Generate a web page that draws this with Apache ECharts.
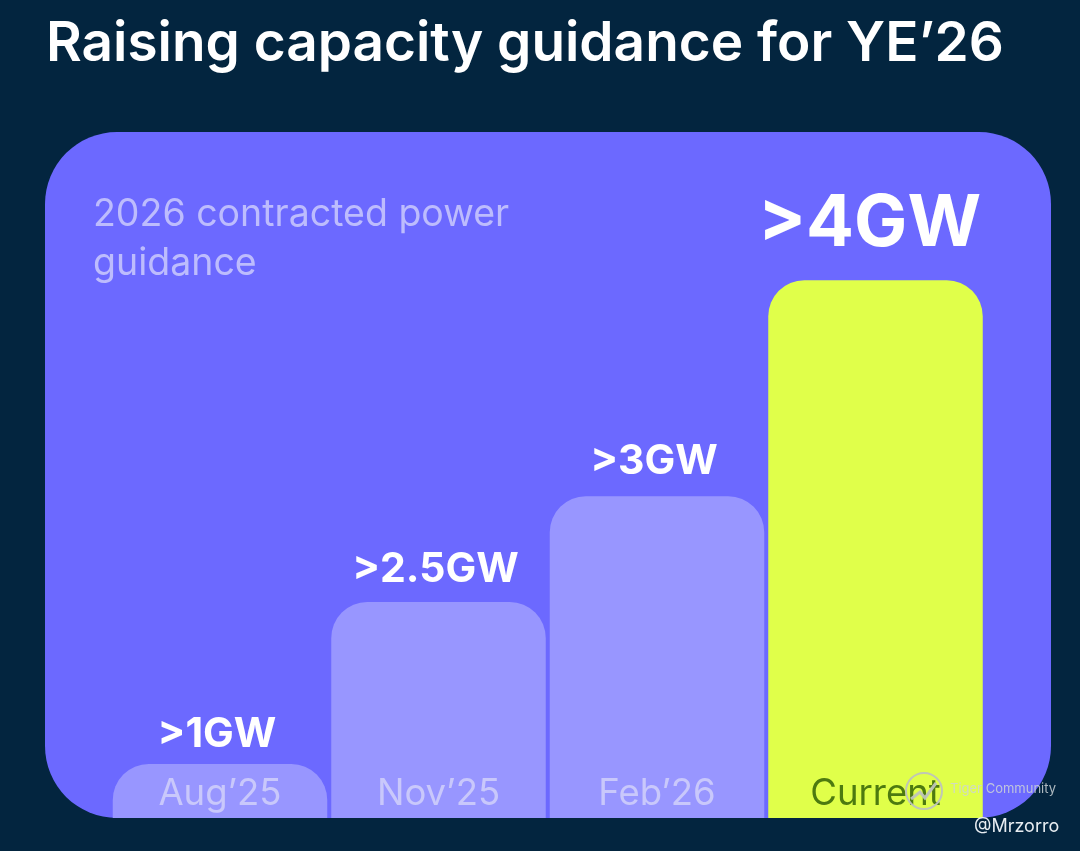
<!DOCTYPE html>
<html><head><meta charset="utf-8">
<style>html,body{margin:0;padding:0;background:#03253f}#c{width:1080px;height:851px}</style>
<script src="https://cdn.jsdelivr.net/npm/echarts@6/dist/echarts.min.js"></script>
</head><body><div id="c"></div>
<script>
const categories = ["Aug\u201925", "Nov\u201925", "Feb\u201926", "Current"];
// Drawn bar heights (the bars are not to scale with their labels)
const barHeights = [0.25, 1, 1.49, 2.49];
const barLabels = [">1GW", ">2.5GW", ">3GW", ">4GW"];
const titleText = "Raising capacity guidance for YE\u201926";
const subtitleText = "2026 contracted power\nguidance";

const F = "Inter, 'Noto Sans', sans-serif";
const LAST = categories.length - 1;
const labelGap = i => i === LAST ? 20 : (i === 0 ? 9 : (i === 1 ? 12 : 14));
const chart = echarts.init(document.getElementById('c'), null, {renderer:'canvas'});
chart.setOption({
  backgroundColor:'#03253f',
  animation:false,
  grid:{left:110.75,right:95.25,top:132,bottom:33},
  xAxis:{type:'category',data:categories,z:10,
    axisLine:{show:false},axisTick:{show:false},
    axisLabel:{margin:-24,fontFamily:F,fontSize:36.5,verticalAlign:'middle',
      color:(v,i)=>i===LAST?'#4d7a10':'#c9c8fb'}},
  yAxis:{type:'value',min:0,max:3.176,show:false,splitLine:{show:false}},
  series:[{type:'bar',barWidth:214.5,z:3,
    data:barHeights.map((v,i)=>({value:v,
      itemStyle:{color:i===LAST?'#e0ff4a':'#9896ff',borderRadius:[36,36,0,0]},
      label:{show:true,position:'top',distance:labelGap(i),offset:[i===LAST?-6:-3,0],formatter:barLabels[i],
        fontFamily:F,fontWeight:700,fontSize:i===LAST?71:41,color:'#ffffff'}}))
  }],
  graphic:[
    {type:'rect',z:0,silent:true,shape:{x:45,y:132,width:1006,height:686,r:72},style:{fill:'#6c69ff'}},
    {type:'text',z:10,left:46,top:17,style:{text:titleText,fontFamily:F,fontWeight:600,fontSize:54.9,fill:'#ffffff'}},
    {type:'text',z:10,left:93,top:190,style:{text:subtitleText,fontFamily:F,fontSize:37.5,lineHeight:49,fill:'#bdbcfd'}},
    {type:'circle',z:20,shape:{cx:924,cy:791,r:18},style:{fill:'rgba(255,255,255,0)',stroke:'rgba(190,196,185,0.95)',lineWidth:2}},
    {type:'polyline',z:20,shape:{points:[[911,799],[920,792],[925,798],[936,783]]},style:{fill:'none',stroke:'rgba(190,196,185,0.95)',lineWidth:3}},
    {type:'text',z:20,left:950,top:783,style:{text:'Tiger Community',fontFamily:F,fontSize:13,fill:'rgba(205,212,215,0.85)'}},
    {type:'text',z:20,left:974,top:818,style:{text:'@Mrzorro',fontFamily:F,fontSize:18,fill:'#e8edf2'}}
  ]
});
</script></body></html>
